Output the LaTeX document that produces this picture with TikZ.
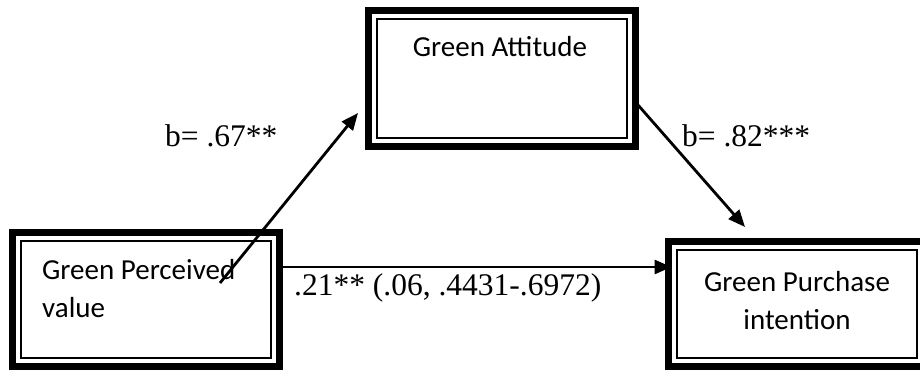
\documentclass[tikz,border=0pt]{standalone}
\usepackage{fontspec}
\setmainfont{Liberation Serif}
\newfontfamily\calfont{Carlito}
\usetikzlibrary{arrows.meta}
\begin{document}
\begin{tikzpicture}[x=1pt,y=-1pt,
  frame/.style={draw=black, line width=7pt, inner sep=0pt, outer sep=0pt, fill=white},
  innerframe/.style={draw=black, line width=1.5pt},
  boxtext/.style={font=\calfont\fontsize{29}{35}\selectfont, inner sep=0pt},
  lbl/.style={font=\fontsize{31.5}{36}\selectfont, inner sep=0pt},
  arr/.style={draw=black, line width=2.8pt, -{Triangle[length=17pt,width=14pt]}}]
\useasboundingbox (0,0) rectangle (920,371);
\clip (0,0) rectangle (920,371);
\fill[white] (0,0) rectangle (920,371);
% boxes
\node[frame, minimum width=267pt, minimum height=134pt] (gpv) at (146,299.5) {};
\node[frame, minimum width=267pt, minimum height=136pt] (ga) at (502,78.5) {};
\node[frame, minimum width=257pt, minimum height=125pt] (gpi) at (797,304) {};
\foreach \n in {gpv,ga,gpi}{
  \draw[innerframe] ([shift={(8.5,8.5)}]\n.north west) rectangle ([shift={(-8.5,-8.5)}]\n.south east);
}
% box texts
\node[boxtext, anchor=base west] (gpvt1) at (42,279) {Green Perceived};
\node[boxtext, anchor=base west] (gpvt2) at (42,317) {value};
\node[boxtext, anchor=base] (gat) at (500,57) {Green Attitude};
\node[boxtext, anchor=base] (gpit1) at (797,291) {Green Purchase};
\node[boxtext, anchor=base] (gpit2) at (797,329) {intention};
% connectors
\coordinate (a1s) at (220,283);
\coordinate (a1e) at (358,113);
\coordinate (a2s) at (638,105);
\coordinate (a2e) at (745,227);
\coordinate (hy) at (0,267);
\draw[arr] (a1s) -- (a1e);
\draw[arr] (a2s) -- (a2e);
\draw[arr] (gpv.east |- hy) -- ([xshift=3pt]gpi.west |- hy);
% labels
\node[lbl, anchor=base west] (l1) at (165,147) {b= .67**};
\node[lbl, anchor=base west] (l2) at (682,147) {b= .82***};
\node[lbl, anchor=base west] (l3) at (294,295) {.21** (.06, .4431-.6972)};
\end{tikzpicture}
\end{document}
